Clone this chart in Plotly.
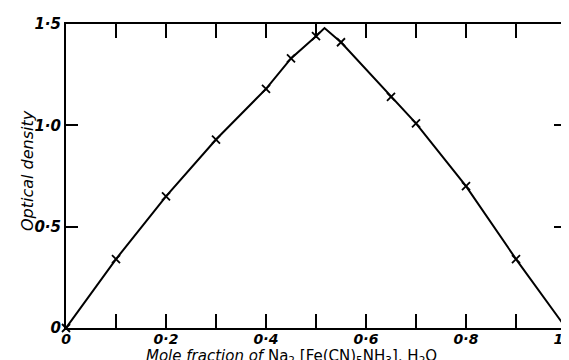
import plotly.graph_objects as go

# measured points
mole_fraction = [0, 0.1, 0.2, 0.3, 0.4, 0.45, 0.5, 0.55, 0.65, 0.7, 0.8, 0.9, 1.0]
optical_density = [0, 0.34, 0.65, 0.93, 1.18, 1.33, 1.44, 1.41, 1.14, 1.01, 0.70, 0.34, 0]

# drawn curve (includes apex)
curve_x = [0, 0.1, 0.2, 0.3, 0.4, 0.45, 0.5, 0.517, 0.55, 0.65, 0.7, 0.8, 0.9, 1.0]
curve_y = [0, 0.34, 0.65, 0.93, 1.18, 1.33, 1.44, 1.48, 1.41, 1.14, 1.01, 0.70, 0.34, 0]

x_tickvals = [0, 0.1, 0.2, 0.3, 0.4, 0.5, 0.6, 0.7, 0.8, 0.9, 1.0]
x_ticktext = ["0", "", "0·2", "", "0·4", "", "0·6", "", "0·8", "", "1·0"]
y_tickvals = [0, 0.5, 1.0, 1.5]
y_ticktext = ["0", "0·5", "1·0", "1·5"]

L, R, T, B = 58, 11, 16, 40
W, H = 569, 360
plot_w = W - L - R
plot_h = H - T - B

fig = go.Figure()
fig.add_trace(go.Scatter(x=curve_x, y=curve_y, mode="lines",
                         line=dict(color="black", width=2), cliponaxis=False,
                         hoverinfo="skip"))
fig.add_trace(go.Scatter(x=mole_fraction, y=optical_density, mode="markers",
                         marker=dict(symbol="x-thin", size=8, color="black",
                                     line=dict(color="black", width=1.8)),
                         cliponaxis=False))

xtickfont = dict(family="DejaVu Sans", size=14, color="black", style="italic", weight="bold")
ytickfont = dict(family="DejaVu Sans", size=15, color="black", style="italic", weight="bold")

fig.update_layout(
    width=W, height=H,
    margin=dict(l=L, r=R, t=T, b=B, autoexpand=False),
    paper_bgcolor="white", plot_bgcolor="white",
    showlegend=False,
    xaxis=dict(range=[0, 1], tickvals=x_tickvals, ticktext=x_ticktext,
               ticks="inside", ticklen=14, tickwidth=1.5, tickcolor="black",
               showline=True, linecolor="black", linewidth=2, mirror="ticks",
               showgrid=False, zeroline=False, tickfont=xtickfont,
               automargin=False, ticklabelstandoff=-3, ticklabeloverflow="allow"),
    yaxis=dict(range=[0, 1.5], tickvals=y_tickvals, ticktext=y_ticktext,
               ticks="inside", ticklen=12, tickwidth=1.5, tickcolor="black",
               showline=True, linecolor="black", linewidth=2, mirror="ticks",
               showgrid=False, zeroline=False, tickfont=ytickfont,
               automargin=False, ticklabelstandoff=0, ticklabeloverflow="allow"),
    annotations=[
        dict(text="<i>Mole fraction of</i> Na<sub>2</sub> [Fe(CN)<sub>5</sub>NH<sub>3</sub>], H<sub>2</sub>O",
             x=(283 - L) / plot_w, y=(H - B - 348) / plot_h, xref="paper", yref="paper",
             xanchor="center", yanchor="middle", showarrow=False,
             font=dict(family="DejaVu Sans", size=15, color="black")),
        dict(text="<i>Optical density</i>", textangle=-90,
             x=(19 - L) / plot_w, y=(H - B - 163) / plot_h, xref="paper", yref="paper",
             xanchor="center", yanchor="middle", showarrow=False,
             font=dict(family="DejaVu Sans", size=16, color="black")),
    ],
)

fig.write_html("out.html")
